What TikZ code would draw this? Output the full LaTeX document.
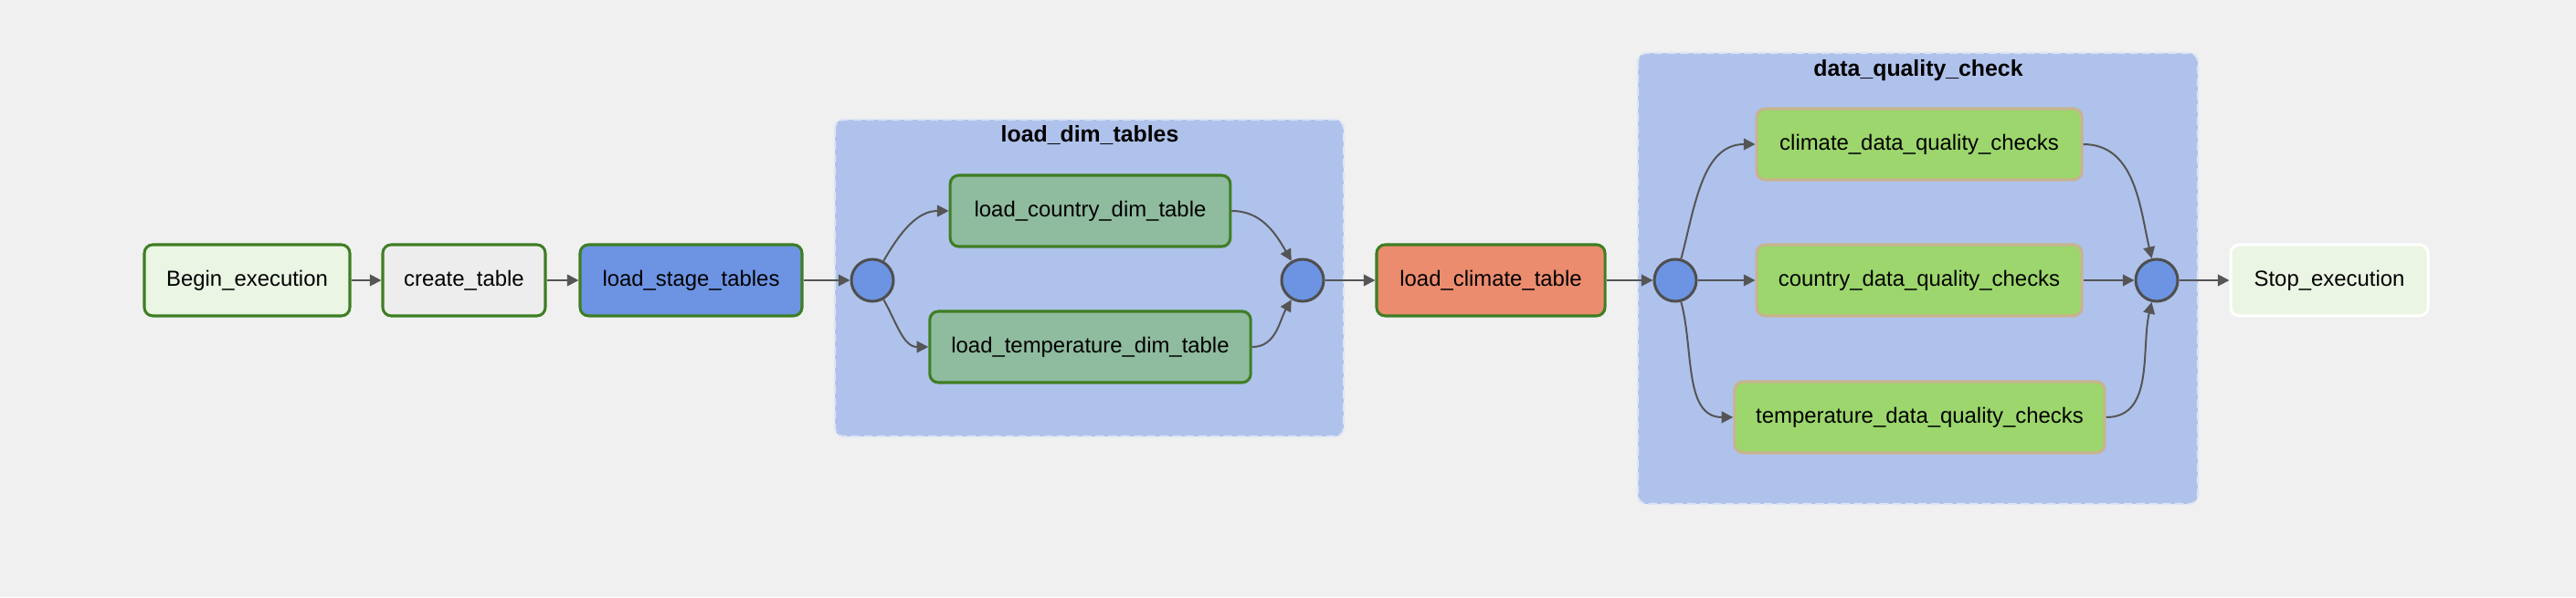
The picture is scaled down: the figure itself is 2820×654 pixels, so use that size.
\documentclass[tikz,border=0pt]{standalone}
\usepackage{fontspec}
\setmainfont{Liberation Sans}
\usetikzlibrary{positioning}
\usetikzlibrary{arrows.meta}
\usetikzlibrary{calc}
\definecolor{bggray}{HTML}{F0F0F0}
\definecolor{taskgreen}{HTML}{3E7E24}
\definecolor{beginfill}{HTML}{EAF5E3}
\definecolor{createfill}{HTML}{EDEDED}
\definecolor{stageblue}{HTML}{6D94E3}
\definecolor{groupblue}{HTML}{AFC2EB}
\definecolor{groupedge}{HTML}{DCE4F5}
\definecolor{dimgreen}{HTML}{8FBB9F}
\definecolor{climatered}{HTML}{EB8C6E}
\definecolor{dqgreen}{HTML}{9CD66D}
\definecolor{dqborder}{HTML}{C8B38F}
\definecolor{jointgray}{HTML}{4F4F4F}
\definecolor{arrowgray}{HTML}{555555}
\tikzstyle{task}=[rectangle,rounded corners=4pt,line width=1.3pt,minimum height=1.17cm,inner sep=0pt,font=\fontsize{10.2}{12}\selectfont]
\tikzstyle{joint}=[circle,fill=stageblue,draw=jointgray,line width=1.3pt,minimum size=0.69cm,inner sep=0pt]
\tikzstyle{taskgroup}=[fill=groupblue,draw=groupedge,line width=0.9pt,dash pattern=on 4pt off 2pt,rounded corners=4pt]
\tikzstyle{grouptitle}=[font=\bfseries\fontsize{10.6}{13}\selectfont]
\tikzstyle{edge} = [draw,line width=0.85pt,arrowgray,-{Triangle[length=0.19cm,width=0.19cm]}]

\begin{document}
\begin{tikzpicture}[x=0.015cm,y=-0.015cm]

  \fill[bggray] (0,0) rectangle (2820,654);

  % task groups
  \path[taskgroup] (914,131) rectangle (1471,478);
  \node[grouptitle] (dimtitle) at (1193,148) {load\_dim\_tables};
  \path[taskgroup] (1793,58) rectangle (2406,552);
  \node[grouptitle] (dqtitle) at (2100,77) {data\_quality\_check};

  \foreach \pos/\name/\width/\colour/\border/\label in {
      {(270.5,307)/begin/3.375cm/beginfill/taskgreen/Begin\_execution},
      {(508,307)/create/2.67cm/createfill/taskgreen/create\_table},
      {(756.5,307)/stage/3.645cm/stageblue/taskgreen/load\_stage\_tables},
      {(1193.5,231)/dimcountry/4.6cm/dimgreen/taskgreen/load\_country\_dim\_table},
      {(1193.5,380)/dimtemp/5.27cm/dimgreen/taskgreen/load\_temperature\_dim\_table},
      {(1632,307)/climate/3.75cm/climatered/taskgreen/load\_climate\_table},
      {(2101,158)/dqclimate/5.34cm/dqgreen/dqborder/climate\_data\_quality\_checks},
      {(2101,307)/dqcountry/5.34cm/dqgreen/dqborder/country\_data\_quality\_checks},
      {(2101.5,457)/dqtemp/6.08cm/dqgreen/dqborder/temperature\_data\_quality\_checks},
      {(2550,307)/stop/3.24cm/beginfill/white/Stop\_execution}}
        \node[task,minimum width=\width,fill=\colour,draw=\border] (\name) at \pos {\label};

  \foreach \pos/\name in {{(955,307)/dimin}, {(1426,307)/dimout}, {(1834,307)/dqin}, {(2361,307)/dqout}}
        \node[joint] (\name) at \pos {};

  % Connect tasks with edges
  \foreach \source/\dest in {begin/create, create/stage, stage/dimin, dimout/climate,
                             climate/dqin, dqin/dqcountry, dqcountry/dqout, dqout/stop}
          \path[edge] (\source) -- (\dest);

  \foreach \source/\dest/\outang/\inang in {dimin/dimcountry/60/180, dimin/dimtemp/-60/180,
                                            dimcountry/dimout/0/120, dimtemp/dimout/0/-120,
                                            dqin/dqclimate/75/180, dqin/dqtemp/-75/180,
                                            dqclimate/dqout/0/103, dqtemp/dqout/0/-103}
          \path[edge] (\source) to[out=\outang,in=\inang] (\dest);

\end{tikzpicture}
\end{document}
